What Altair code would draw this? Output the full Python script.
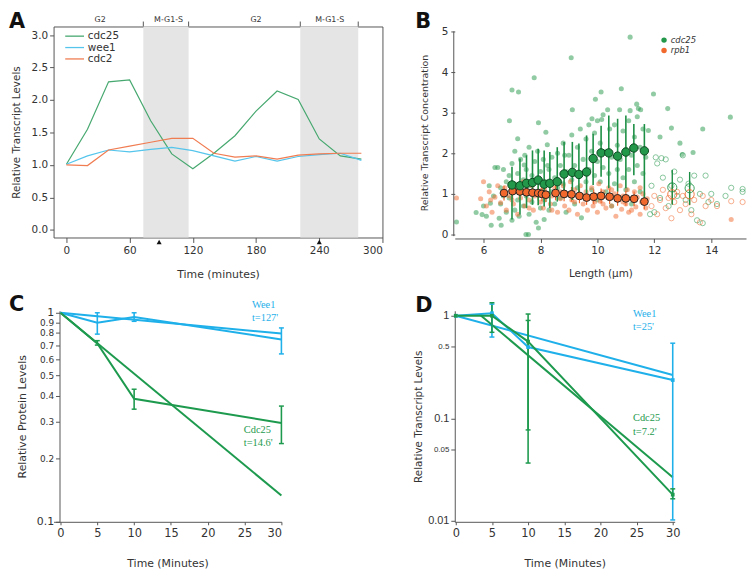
import altair as alt
import pandas as pd

FONT = "DejaVu Sans"
SERIF = "Liberation Serif"
GREY = "#555555"
TXT = "#333333"

# ---------------- Panel A data ----------------
a_time = [0, 20, 40, 60, 80, 100, 120, 140, 160, 180, 200, 220, 240, 260, 280]
a_cdc25 = [1.01, 1.55, 2.28, 2.31, 1.68, 1.17, 0.94, 1.18, 1.45, 1.83, 2.14, 2.01, 1.40, 1.14, 1.09]
a_wee1 = [1.01, 1.14, 1.23, 1.20, 1.24, 1.27, 1.22, 1.14, 1.06, 1.13, 1.06, 1.13, 1.16, 1.18, 1.07]
a_cdc2 = [1.00, 0.99, 1.23, 1.29, 1.35, 1.41, 1.41, 1.18, 1.12, 1.14, 1.09, 1.15, 1.17, 1.18, 1.18]
a_genes = ["cdc25", "wee1", "cdc2"]
a_phase_start = [73, 222]
a_phase_end = [116, 277]
a_phase_bounds = [73, 116, 222, 277]
a_phase_labels = ["G2", "M-G1-S", "G2", "M-G1-S"]
a_phase_label_time = [32, 97, 180, 250]
a_arrow_time = [88, 240]
a_xticks = [0, 60, 120, 180, 240, 300]
a_yticks = [0, 0.5, 1.0, 1.5, 2.0, 2.5, 3.0]

# ---------------- Panel B data ----------------
b_cdc25_x = [5.05, 5.74, 5.95, 6.0, 6.1, 6.2, 6.24, 6.27, 6.35, 6.4,
             6.5, 6.55, 6.6, 6.62, 6.6, 6.7, 6.7, 6.8, 6.8, 6.9,
             6.91, 6.9, 7.0, 7.0, 7.0, 7.0, 7.1, 7.1, 7.1, 7.2,
             7.2, 7.2, 7.23, 7.25, 7.3, 7.3, 7.4, 7.4, 7.43, 7.45,
             7.49, 7.5, 7.5, 7.58, 7.6, 7.6, 7.6, 7.7, 7.7, 7.78,
             7.8, 7.8, 7.85, 7.9, 7.9, 7.93, 7.93, 8.0, 8.0, 8.05,
             8.1, 8.13, 8.15, 8.19, 8.2, 8.24, 8.25, 8.3, 8.3, 8.4,
             8.4, 8.5, 8.5, 8.6, 8.6, 8.7, 8.7, 8.8, 8.8, 8.85,
             8.9, 8.9, 9.0, 9.0, 9.08, 9.1, 9.1, 9.12, 9.2, 9.2,
             9.3, 9.3, 9.4, 9.4, 9.44, 9.5, 9.5, 9.6, 9.6, 9.7,
             9.7, 9.8, 9.8, 9.81, 9.9, 9.9, 9.93, 10.0, 10.0, 10.0,
             10.1, 10.1, 10.13, 10.15, 10.2, 10.2, 10.3, 10.3, 10.36, 10.4,
             10.43, 10.5, 10.5, 10.6, 10.6, 10.7, 10.7, 10.78, 10.8, 10.8,
             10.84, 10.9, 10.9, 11.0, 11.0, 11.1, 11.1, 11.15, 11.15, 11.2,
             11.2, 11.3, 11.3, 11.38, 11.4, 11.4, 11.44, 11.5, 11.5, 11.52,
             11.6, 11.6, 11.7, 11.7, 11.79, 11.97, 12.47, 12.6, 12.98, 13.36,
             13.7, 14.67, 12.2, 12.9]
b_cdc25_y = [0.31, 0.54, 0.49, 0.7, 0.45, 1.2, 0.77, 0.23, 0.95, 1.65,
             1.65, 0.4, 1.15, 0.23, 0.75, 0.95, 1.6, 0.55, 1.3, 0.9,
             2.8, 1.45, 3.56, 0.35, 1.05, 1.75, 0.6, 1.25, 2.05, 0.85,
             2.36, 1.5, 3.51, 0.45, 1.1, 1.85, 0.7, 1.35, 1.71, 1.95,
             0.0, 0.95, 1.6, 0.0, 0.5, 1.2, 2.15, 0.8, 1.45, 3.86,
             1.05, 1.8, 0.3, 1.3, 2.05, 2.75, 0.16, 0.65, 1.55, 1.0,
             1.85, 0.37, 0.85, 2.52, 1.3, 2.21, 1.7, 0.6, 1.6, 1.05,
             1.9, 0.75, 1.4, 1.15, 2.0, 0.9, 1.7, 1.25, 2.25, 1.95,
             0.55, 1.55, 1.0, 1.95, 4.35, 1.35, 2.45, 3.07, 0.75, 1.7,
             1.15, 2.15, 1.5, 2.6, 0.41, 0.95, 1.85, 1.3, 2.35, 1.6,
             2.7, 1.1, 2.05, 2.85, 1.45, 2.5, 3.33, 0.85, 1.8, 2.8,
             1.3, 2.25, 3.51, 2.83, 1.65, 2.95, 1.05, 2.05, 3.07, 1.5,
             2.6, 0.7, 1.9, 1.25, 2.7, 1.6, 2.2, 3.07, 0.9, 1.85,
             3.59, 1.4, 2.55, 1.1, 2.1, 1.6, 2.8, 4.86, 3.05, 0.75,
             1.95, 1.3, 2.4, 3.21, 1.7, 2.9, 3.1, 1.05, 2.15, 3.07,
             1.5, 2.6, 0.8, 1.9, 2.56, 3.46, 3.1, 2.62, 1.97, 2.02,
             2.6, 2.89, 2.4, 2.25]
b_rpb1_x = [5.05, 5.9, 6.0, 6.1, 6.2, 6.3, 6.4, 6.5, 6.6, 6.7,
            6.8, 6.9, 7.0, 7.0, 7.05, 7.1, 7.2, 7.3, 7.3, 7.4,
            7.45, 7.5, 7.6, 7.6, 7.7, 7.75, 7.8, 7.9, 8.0, 8.0,
            8.05, 8.1, 8.2, 8.3, 8.35, 8.4, 8.4, 8.5, 8.6, 8.7,
            8.7, 8.8, 8.85, 8.9, 9.0, 9.05, 9.1, 9.2, 9.2, 9.3,
            9.35, 9.4, 9.5, 9.5, 9.6, 9.65, 9.7, 9.8, 9.85, 9.9,
            9.9, 10.0, 10.05, 10.1, 10.2, 10.2, 10.3, 10.35, 10.4, 10.5,
            10.5, 10.6, 10.65, 10.7, 10.8, 10.85, 10.9, 10.9, 11.0, 11.05,
            11.1, 11.2, 11.2, 11.3, 11.35, 11.4, 11.5, 11.5, 11.55, 11.6,
            11.7, 11.75, 14.7, 6.25, 6.75]
b_rpb1_y = [0.9, 0.88, 1.3, 0.7, 1.05, 0.55, 0.92, 1.2, 0.78, 1.05,
            0.6, 0.95, 1.25, 0.85, 0.75, 1.1, 0.5, 0.9, 1.15, 1.3,
            0.7, 1.05, 0.85, 0.65, 1.2, 0.6, 0.95, 1.35, 0.8, 1.05,
            1.1, 0.65, 1.0, 1.25, 0.75, 0.95, 0.6, 1.15, 0.55, 0.88,
            1.05, 1.2, 0.7, 1.0, 0.6, 1.3, 0.85, 1.1, 0.8, 0.5,
            0.95, 1.2, 0.75, 0.95, 1.05, 0.6, 0.9, 1.15, 0.7, 0.98,
            0.8, 0.55, 1.25, 0.82, 1.05, 0.75, 0.65, 0.92, 1.15, 0.7,
            1.1, 1.0, 0.45, 0.85, 1.2, 0.62, 0.95, 0.8, 0.75, 1.1,
            0.55, 0.88, 0.6, 1.05, 0.68, 0.92, 0.5, 1.15, 0.8, 1.0,
            0.65, 0.88, 0.37, 0.85, 1.15]
b_cdc25_open_x = [11.9, 12.0, 12.05, 12.1, 12.2, 12.25, 12.3, 12.4, 12.5, 12.6,
                  12.7, 12.8, 12.9, 13.0, 13.1, 13.2, 13.3, 13.4, 13.5, 13.6,
                  13.7, 13.8, 13.9, 14.0, 14.2, 14.5, 14.7, 15.1, 15.1, 11.85]
b_cdc25_open_y = [1.2, 0.55, 1.9, 1.75, 0.9, 1.88, 1.4, 1.85, 0.7, 1.2,
                  1.55, 0.95, 1.35, 1.95, 0.85, 1.25, 0.6, 1.45, 0.35, 1.0,
                  0.28, 1.45, 0.8, 1.0, 0.75, 0.95, 1.15, 1.05, 1.12, 0.5]
b_rpb1_open_x = [11.9, 12.0, 12.1, 12.2, 12.3, 12.4, 12.5, 12.6, 12.7, 12.8,
                 12.9, 13.0, 13.1, 13.3, 13.4, 13.6, 13.7, 13.8, 14.0, 14.2,
                 14.7, 15.1]
b_rpb1_open_y = [0.7, 0.95, 0.5, 0.85, 1.1, 0.65, 0.9, 0.4, 0.8, 1.05,
                 0.6, 0.95, 0.75, 0.5, 0.85, 0.3, 0.95, 0.7, 0.85, 0.7,
                 0.82, 0.8]
b_cdc25_mean_x = [7.0, 7.28, 7.51, 7.72, 7.92, 8.13, 8.33, 8.59, 8.83, 9.12,
                  9.35, 9.62, 9.85, 10.13, 10.4, 10.71, 11.0, 11.28, 11.65]
b_cdc25_mean_y = [1.22, 1.2, 1.26, 1.28, 1.34, 1.24, 1.26, 1.3, 1.49, 1.53,
                  1.48, 1.54, 1.87, 2.01, 2.01, 1.93, 2.03, 2.13, 2.06]
b_cdc25_mean_lo = [0.37, 0.49, 0.65, 0.73, 0.72, 0.69, 0.65, 0.81, 0.89, 0.85,
                   0.98, 1.02, 1.22, 1.42, 1.14, 1.06, 1.14, 1.46, 0.85]
b_cdc25_mean_hi = [1.67, 1.87, 1.95, 2.07, 2.11, 2.07, 2.03, 2.15, 2.28, 2.28,
                   2.24, 2.44, 2.48, 2.68, 2.93, 2.85, 2.93, 2.72, 2.72]
b_cdc25_open_mean_x = [12.63, 13.24]
b_cdc25_open_mean_y = [1.16, 1.14]
b_cdc25_open_mean_lo = [0.73, 0.73]
b_cdc25_open_mean_hi = [1.59, 1.54]
b_rpb1_mean_x = [6.72, 7.02, 7.28, 7.51, 7.72, 7.92, 8.05, 8.19, 8.53, 8.83,
                 9.09, 9.37, 9.62, 9.87, 10.13, 10.43, 10.71, 11.0, 11.29, 11.65]
b_rpb1_mean_y = [1.02, 1.07, 1.06, 1.04, 1.03, 1.02, 1.0, 0.98, 1.02, 1.0,
                 0.99, 0.95, 0.91, 0.93, 0.95, 0.93, 0.89, 0.89, 0.88, 0.81]
b_rpb1_mean_lo = [0.84, 0.88, 0.88, 0.86, 0.85, 0.84, 0.82, 0.8, 0.84, 0.82,
                  0.81, 0.77, 0.73, 0.75, 0.77, 0.75, 0.71, 0.71, 0.7, 0.62]
b_rpb1_mean_hi = [1.2, 1.26, 1.24, 1.22, 1.21, 1.2, 1.18, 1.16, 1.2, 1.18,
                  1.17, 1.13, 1.09, 1.11, 1.13, 1.11, 1.07, 1.07, 1.06, 1.0]
b_rpb1_open_mean_x = [12.63, 13.24]
b_rpb1_open_mean_y = [0.99, 0.99]
b_rpb1_open_mean_lo = [0.75, 0.72]
b_rpb1_open_mean_hi = [1.22, 1.2]
b_genes = ["cdc25", "rpb1"]
b_xticks = [6, 8, 10, 12, 14]
b_yticks = [0, 1, 2, 3, 4, 5]

# ---------------- Panel C data ----------------
c_time = [0, 5, 10, 30]
c_wee1 = [1.0, 0.897, 0.955, 0.745]
c_cdc25 = [1.0, 0.713, 0.387, 0.296]
c_err_time = [5, 10, 30]
c_wee1_lo = [0.79, 0.91, 0.635]
c_wee1_hi = [1.0, 1.0, 0.846]
c_cdc25_lo = [0.70, 0.345, 0.236]
c_cdc25_hi = [0.735, 0.43, 0.357]
c_fit_time = [0, 30]
c_wee1_fit = [1.0, 0.795]
c_cdc25_fit = [1.0, 0.133]
c_xticks = [0, 5, 10, 15, 20, 25, 30]
c_yticks = [0.1, 0.2, 0.3, 0.4, 0.5, 0.6, 0.7, 0.8, 0.9, 1]

# ---------------- Panel D data ----------------
d_time = [0, 5, 10, 30]
d_wee1 = [1.0, 1.06, 0.495, 0.236]
d_cdc25 = [1.0, 1.0, 0.56, 0.018]
d_wee1_err_time = [5, 30]
d_wee1_lo = [0.62, 0.0102]
d_wee1_hi = [1.3, 0.54]
d_cdc25_err_time = [5, 10, 10, 30]
d_cdc25_lo = [0.69, 0.0366, 0.077, 0.0164]
d_cdc25_hi = [1.34, 1.04, 0.9, 0.0205]
d_wee1_fit_time = [0, 30]
d_wee1_fit = [1.0, 0.264]
d_cdc25_fit_time = [3.3, 30]
d_cdc25_fit = [1.03, 0.0266]
d_xticks = [0, 5, 10, 15, 20, 25, 30]
d_yticks = [0.01, 0.05, 0.1, 0.5, 1]

series = ["Wee1", "Cdc25"]

# ---------------- colours ----------------
A_COLORS = ["#46a86f", "#55c5ec", "#f07c52"]
GREEN_B = "#23974a"
ORANGE_B = "#f2692e"
CYAN = "#1fb0ea"
GREEN_CD = "#1e9a4e"


def letter(ch, dx, dy):
    return alt.Chart(pd.DataFrame({"lab": [ch]})).mark_text(
        font=FONT, fontSize=21, fontWeight="bold", align="left", baseline="top", color="#111111"
    ).encode(text="lab:N", x=alt.value(dx), y=alt.value(dy))


# ================= Panel A =================
W_A, H_A = 332, 213
a_xs = alt.Scale(domain=[-12.2, 300], nice=False, zero=False)
a_ys = alt.Scale(domain=[-0.118, 3.133], nice=False, zero=False)
a_xaxis = alt.Axis(values=a_xticks, title="Time (minutes)", tickSize=5, labelPadding=3, labelOverlap=False,
                   titlePadding=13, labelFontSize=10.5, titleFontSize=11, domain=False)
a_yaxis = alt.Axis(values=a_yticks, format=".1f", title="Relative Transcript Levels", tickSize=4,
                   labelOverlap=False, labelPadding=2, titlePadding=10, labelFontSize=10.5,
                   titleFontSize=10.5, domain=False)


def xA(f):
    return alt.X(f"{f}:Q", scale=a_xs, axis=a_xaxis)


a_df = pd.DataFrame({
    "time": a_time * 3,
    "value": a_cdc25 + a_wee1 + a_cdc2,
    "gene": [g for g in a_genes for _ in a_time],
})
a_shade = alt.Chart(pd.DataFrame({"time": a_phase_start, "time_end": a_phase_end})).mark_rect(
    color="#e5e5e5").encode(x=xA("time"), x2="time_end:Q", y=alt.value(0), y2=alt.value(H_A))
a_lines = alt.Chart(a_df).mark_line(strokeWidth=1.2).encode(
    x=xA("time"),
    y=alt.Y("value:Q", scale=a_ys, axis=a_yaxis),
    color=alt.Color("gene:N", scale=alt.Scale(domain=a_genes, range=A_COLORS),
                    legend=alt.Legend(orient="none", legendX=16, legendY=4.5, title=None,
                                      symbolType="M-3,0H3", symbolSize=40, symbolStrokeWidth=1.3,
                                      symbolFillColor="transparent",
                                      labelFontSize=10.5, labelFont=FONT, labelColor=TXT,
                                      labelOffset=8, rowPadding=0.5, padding=0)),
)
a_topticks = alt.Chart(pd.DataFrame({"time": a_phase_bounds})).mark_rule(color=GREY).encode(
    x=xA("time"), y=alt.value(-5), y2=alt.value(0))
a_phase_txt = alt.Chart(pd.DataFrame({"time": a_phase_label_time, "lab": a_phase_labels})).mark_text(
    font=FONT, fontSize=8, color=TXT, baseline="middle").encode(x=xA("time"), y=alt.value(-6.5), text="lab:N")
a_arrows = alt.Chart(pd.DataFrame({"time": a_arrow_time})).mark_point(
    shape="triangle-up", filled=True, color="#111111", size=26, opacity=1).encode(
    x=xA("time"), y=alt.value(H_A + 4.5))

A = alt.layer(a_shade, a_lines, a_topticks, a_phase_txt, a_arrows, letter("A", -45, -15)).properties(
    width=W_A, height=H_A, view=alt.ViewBackground(stroke=GREY, strokeWidth=1))

# ================= Panel B =================
W_B, H_B = 294, 214
b_xs = alt.Scale(domain=[4.99, 15.22], nice=False, zero=False)
b_ys = alt.Scale(domain=[-0.098, 5.122], nice=False, zero=False)
b_xaxis = alt.Axis(values=b_xticks, title="Length (µm)", tickSize=4, labelPadding=3, titlePadding=13,
                   labelOverlap=False, labelFontSize=10.5, titleFontSize=10.5)
b_yaxis = alt.Axis(values=b_yticks, title="Relative Transcript Concentration", tickSize=4, labelPadding=3,
                   labelOverlap=False, titlePadding=12, labelFontSize=10.5, titleFontSize=9.5, domain=False)


def xB(f):
    return alt.X(f"{f}:Q", scale=b_xs, axis=b_xaxis)


def yB(f):
    return alt.Y(f"{f}:Q", scale=b_ys, axis=b_yaxis)


b_scatter_df = pd.DataFrame({
    "len": b_cdc25_x + b_rpb1_x,
    "conc": b_cdc25_y + b_rpb1_y,
    "gene": ["cdc25"] * len(b_cdc25_x) + ["rpb1"] * len(b_rpb1_x),
})
b_scatter = alt.Chart(b_scatter_df).mark_circle(size=26, opacity=0.5).encode(
    x=xB("len"), y=yB("conc"),
    color=alt.Color("gene:N", scale=alt.Scale(domain=b_genes, range=[GREEN_B, ORANGE_B]),
                    legend=alt.Legend(orient="none", legendX=207, legendY=9.5, title=None,
                                      symbolType="circle", symbolSize=30, symbolOpacity=1,
                                      labelFontSize=8.5, labelFontStyle="italic", labelFont=FONT,
                                      labelColor=TXT, labelOffset=2.5, rowPadding=1.5, padding=0)))
b_open_g = alt.Chart(pd.DataFrame({"len": b_cdc25_open_x, "conc": b_cdc25_open_y})).mark_point(
    filled=False, size=28, strokeWidth=0.9, opacity=0.6, color=GREEN_B).encode(x=xB("len"), y=yB("conc"))
b_open_o = alt.Chart(pd.DataFrame({"len": b_rpb1_open_x, "conc": b_rpb1_open_y})).mark_point(
    filled=False, size=28, strokeWidth=0.9, opacity=0.6, color=ORANGE_B).encode(x=xB("len"), y=yB("conc"))

b_gm = pd.DataFrame({"len": b_cdc25_mean_x, "conc": b_cdc25_mean_y, "lo": b_cdc25_mean_lo, "hi": b_cdc25_mean_hi})
b_gom = pd.DataFrame({"len": b_cdc25_open_mean_x, "conc": b_cdc25_open_mean_y,
                      "lo": b_cdc25_open_mean_lo, "hi": b_cdc25_open_mean_hi})
b_om = pd.DataFrame({"len": b_rpb1_mean_x, "conc": b_rpb1_mean_y, "lo": b_rpb1_mean_lo, "hi": b_rpb1_mean_hi})
b_oom = pd.DataFrame({"len": b_rpb1_open_mean_x, "conc": b_rpb1_open_mean_y,
                      "lo": b_rpb1_open_mean_lo, "hi": b_rpb1_open_mean_hi})

b_err_o = alt.Chart(b_om).mark_rule(color=ORANGE_B, strokeWidth=1.2).encode(x=xB("len"), y=yB("lo"), y2="hi:Q")
b_err_oo = alt.Chart(b_oom).mark_rule(color=ORANGE_B, strokeWidth=1.2).encode(x=xB("len"), y=yB("lo"), y2="hi:Q")
b_err_g = alt.Chart(b_gm).mark_rule(color="#1d8f45", strokeWidth=1.6).encode(x=xB("len"), y=yB("lo"), y2="hi:Q")
b_err_go = alt.Chart(b_gom).mark_rule(color="#1d8f45", strokeWidth=1.4).encode(x=xB("len"), y=yB("lo"), y2="hi:Q")
b_mean_o = alt.Chart(b_om).mark_circle(size=62, opacity=1, color=ORANGE_B, stroke="#222222",
                                       strokeWidth=1).encode(x=xB("len"), y=yB("conc"))
b_mean_g = alt.Chart(b_gm).mark_circle(size=72, opacity=1, color=GREEN_B, stroke="#0b4a20",
                                       strokeWidth=1).encode(x=xB("len"), y=yB("conc"))
b_mean_oo = alt.Chart(b_oom).mark_point(filled=False, size=85, strokeWidth=1, opacity=0.9,
                                        color=ORANGE_B).encode(x=xB("len"), y=yB("conc"))
b_mean_go = alt.Chart(b_gom).mark_point(filled=False, size=85, strokeWidth=1, opacity=0.9,
                                        color=GREEN_B).encode(x=xB("len"), y=yB("conc"))
b_yline = alt.Chart(pd.DataFrame({"k": [0]})).mark_rule(color=GREY).encode(
    x=alt.value(-1), y=alt.datum(-0.04, scale=b_ys, axis=b_yaxis), y2=alt.datum(5))

B = alt.layer(b_scatter, b_open_g, b_open_o, b_err_o, b_err_oo, b_err_g, b_err_go,
              b_mean_o, b_mean_oo, b_mean_g, b_mean_go, b_yline, letter("B", -40, -15)).properties(
    width=W_B, height=H_B)

# ================= Panel C =================
W_C, H_C = 230, 213
c_xs = alt.Scale(domain=[-0.94, 30], nice=False, zero=False)
c_ys = alt.Scale(type="log", domain=[0.0995, 1.022], nice=False)
c_xaxis = alt.Axis(values=c_xticks, title="Time (Minutes)", tickSize=3, labelPadding=3, titlePadding=19,
                   labelOverlap=False, labelFontSize=11.5, titleFontSize=11)
c_yaxis = alt.Axis(values=c_yticks, format="~g", title="Relative Protein Levels", offset=-6, tickSize=4,
                   labelOverlap=False, labelPadding=2, titlePadding=9, titleFontSize=11,
                   labelFontSize={"condition": {"test": "datum.value == 0.1 || datum.value == 1", "value": 11},
                                  "value": 9})
c_color = alt.Color("series:N", scale=alt.Scale(domain=series, range=[CYAN, GREEN_CD]), legend=None)


def xC(f):
    return alt.X(f"{f}:Q", scale=c_xs, axis=c_xaxis)


def yC(f):
    return alt.Y(f"{f}:Q", scale=c_ys, axis=c_yaxis)


c_df = pd.DataFrame({"t": c_time * 2, "v": c_wee1 + c_cdc25, "series": ["Wee1"] * 4 + ["Cdc25"] * 4})
c_fit_df = pd.DataFrame({"t": c_fit_time * 2, "v": c_wee1_fit + c_cdc25_fit,
                         "series": ["Wee1"] * 2 + ["Cdc25"] * 2})
c_err_df = pd.DataFrame({"t": c_err_time * 2, "lo": c_wee1_lo + c_cdc25_lo, "hi": c_wee1_hi + c_cdc25_hi,
                         "series": ["Wee1"] * 3 + ["Cdc25"] * 3})
c_cap_df = pd.DataFrame({"t": c_err_time * 4, "v": c_wee1_lo + c_cdc25_lo + c_wee1_hi + c_cdc25_hi,
                         "series": (["Wee1"] * 3 + ["Cdc25"] * 3) * 2})


def ann(text, x, y, color, xs, ys, xax, yax):
    return alt.Chart(pd.DataFrame({"lab": [text]})).mark_text(
        font=SERIF, fontSize=10.5, color=color, align="left", baseline="middle").encode(
        text="lab:N", x=alt.datum(x, scale=xs, axis=xax), y=alt.datum(y, scale=ys, axis=yax))


c_lines = alt.Chart(c_df).mark_line(strokeWidth=2).encode(x=xC("t"), y=yC("v"), color=c_color)
c_fit = alt.Chart(c_fit_df).mark_line(strokeWidth=2).encode(x=xC("t"), y=yC("v"), color=c_color)
c_err = alt.Chart(c_err_df).mark_rule(strokeWidth=1.6).encode(x=xC("t"), y=yC("lo"), y2="hi:Q", color=c_color)
c_caps = alt.Chart(c_cap_df).mark_tick(orient="horizontal", size=5, thickness=1.5, opacity=1).encode(
    x=xC("t"), y=yC("v"), color=c_color)

C = alt.layer(c_fit, c_lines, c_err, c_caps,
              ann("Wee1", 26.0, 1.091, CYAN, c_xs, c_ys, c_xaxis, c_yaxis),
              ann("t=127'", 26.0, 0.947, CYAN, c_xs, c_ys, c_xaxis, c_yaxis),
              ann("Cdc25", 24.9, 0.274, GREEN_CD, c_xs, c_ys, c_xaxis, c_yaxis),
              ann("t=14.6'", 24.9, 0.237, GREEN_CD, c_xs, c_ys, c_xaxis, c_yaxis),
              letter("C", -45, -17)).properties(width=W_C, height=H_C)

# ================= Panel D =================
W_D, H_D = 222, 213
d_xs = alt.Scale(domain=[-0.14, 30.27], nice=False, zero=False)
d_ys = alt.Scale(type="log", domain=[0.00978, 1.118], nice=False)
d_xaxis = alt.Axis(values=d_xticks, title="Time (Minutes)", tickSize=3, labelPadding=3, titlePadding=19,
                   labelOverlap=False, labelFontSize=11.5, titleFontSize=11)
d_yaxis = alt.Axis(values=d_yticks, format="~g", title="Relative Transcript Levels", tickSize=4,
                   labelOverlap=False, labelPadding=2, titlePadding=4, titleFontSize=10.5,
                   labelFont="Liberation Sans",
                   labelFontSize={"condition": {"test": "datum.value == 0.5 || datum.value == 0.05", "value": 8},
                                  "value": 11})


def xD(f):
    return alt.X(f"{f}:Q", scale=d_xs, axis=d_xaxis)


def yD(f):
    return alt.Y(f"{f}:Q", scale=d_ys, axis=d_yaxis)


d_color = alt.Color("series:N", scale=alt.Scale(domain=series, range=[CYAN, GREEN_CD]), legend=None)
d_df = pd.DataFrame({"t": d_time * 2, "v": d_wee1 + d_cdc25, "series": ["Wee1"] * 4 + ["Cdc25"] * 4})
d_fit_df = pd.DataFrame({"t": d_wee1_fit_time + d_cdc25_fit_time, "v": d_wee1_fit + d_cdc25_fit,
                         "series": ["Wee1"] * 2 + ["Cdc25"] * 2})
d_err_df = pd.DataFrame({"t": d_wee1_err_time + d_cdc25_err_time, "lo": d_wee1_lo + d_cdc25_lo,
                         "hi": d_wee1_hi + d_cdc25_hi, "series": ["Wee1"] * 2 + ["Cdc25"] * 4})
d_cap_df = pd.DataFrame({"t": (d_wee1_err_time + d_cdc25_err_time) * 2,
                         "v": d_wee1_lo + d_cdc25_lo + d_wee1_hi + d_cdc25_hi,
                         "series": (["Wee1"] * 2 + ["Cdc25"] * 4) * 2})

d_lines = alt.Chart(d_df).mark_line(strokeWidth=2).encode(x=xD("t"), y=yD("v"), color=d_color)
d_pts = alt.Chart(d_df).mark_square(size=14, opacity=1).encode(x=xD("t"), y=yD("v"), color=d_color)
d_fit = alt.Chart(d_fit_df).mark_line(strokeWidth=2).encode(x=xD("t"), y=yD("v"), color=d_color)
d_err = alt.Chart(d_err_df).mark_rule(strokeWidth=1.6).encode(x=xD("t"), y=yD("lo"), y2="hi:Q", color=d_color)
d_caps = alt.Chart(d_cap_df).mark_tick(orient="horizontal", size=5, thickness=1.5, opacity=1).encode(
    x=xD("t"), y=yD("v"), color=d_color)

D = alt.layer(d_fit, d_lines, d_err, d_caps, d_pts,
              ann("Wee1", 24.5, 1.045, CYAN, d_xs, d_ys, d_xaxis, d_yaxis),
              ann("t=25'", 24.5, 0.783, CYAN, d_xs, d_ys, d_xaxis, d_yaxis),
              ann("Cdc25", 24.5, 0.101, GREEN_CD, d_xs, d_ys, d_xaxis, d_yaxis),
              ann("t=7.2'", 24.5, 0.0741, GREEN_CD, d_xs, d_ys, d_xaxis, d_yaxis),
              letter("D", -40, -16)).properties(width=W_D, height=H_D)

chart = alt.concat(A, B, C, D, columns=2, spacing=73, bounds="flush", align="all").resolve_scale(
    color="independent"
).resolve_legend(color="independent").properties(
    padding=0, background="white"
).configure_view(stroke=None).configure_axis(
    grid=False, domainColor=GREY, tickColor=GREY, labelColor=TXT, titleColor=TXT,
    labelFont=FONT, titleFont=FONT, titleFontWeight="normal", domainWidth=1, tickWidth=1
)

chart.save("out.html", embed_options={"renderer": "svg", "actions": False})
